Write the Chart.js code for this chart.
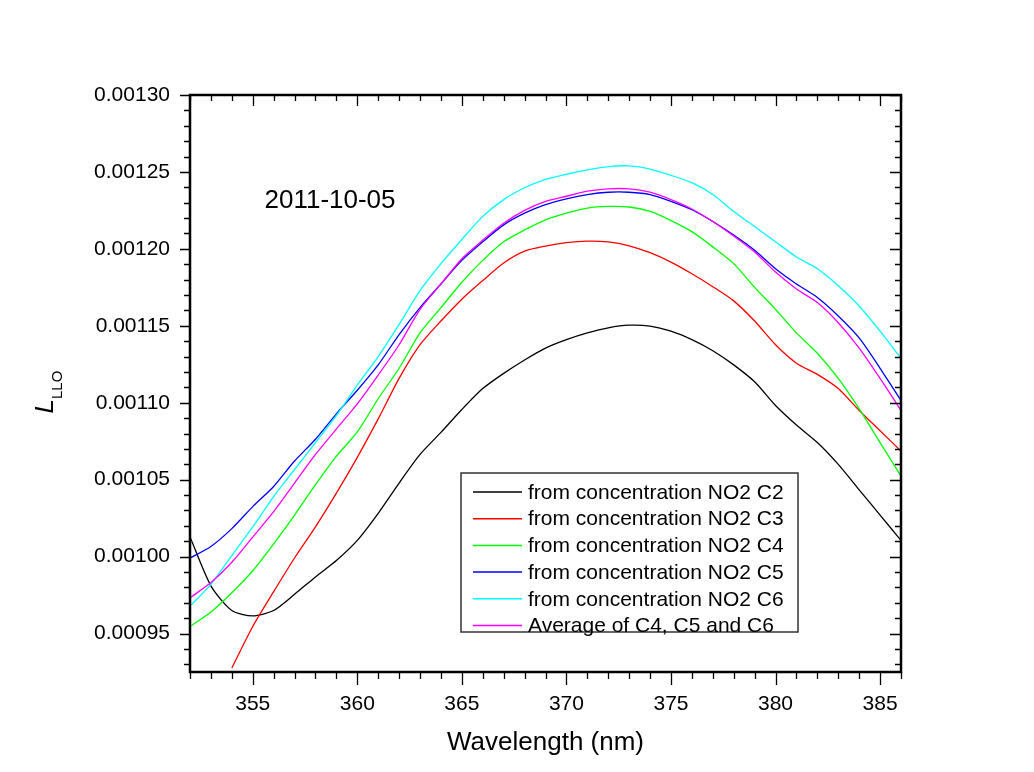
<!DOCTYPE html>
<html>
<head>
<meta charset="utf-8">
<title>LLO vs wavelength</title>
<script src="https://cdn.jsdelivr.net/npm/chart.js@4.4.1/dist/chart.umd.min.js"></script>
<style>
  html, body { margin: 0; padding: 0; background: #fff; }
  #wrap { width: 1034px; height: 772px; }
</style>
</head>
<body>
<div id="wrap"><canvas id="myChart" width="1034" height="772"></canvas></div>
<script>
// wavelength grid (nm)
var wavelength = [352, 353, 354, 355, 356, 357, 358, 359, 360, 361, 362, 363, 364, 365, 366, 367, 368,
                  369, 370, 371, 372, 373, 374, 375, 376, 377, 378, 379, 380, 381, 382, 383, 384, 385, 386];

// L_LLO from each NO2 concentration
var lloC2 = [0.0010128, 0.0009810, 0.0009650, 0.0009615, 0.0009650, 0.0009755, 0.0009868, 0.0009974,
             0.0010105, 0.0010281, 0.0010478, 0.0010664, 0.0010807, 0.0010956, 0.0011092, 0.0011191,
             0.0011278, 0.0011355, 0.0011410, 0.0011454, 0.0011487, 0.0011504, 0.0011498, 0.0011465,
             0.0011410, 0.0011338, 0.0011246, 0.0011136, 0.0010982, 0.0010855, 0.0010741, 0.0010599,
             0.0010434, 0.0010270, 0.0010105];
var lloC3 = [null, null, 0.0009276, 0.0009546, 0.0009772, 0.0009991, 0.0010193, 0.0010412,
             0.0010645, 0.0010895, 0.0011158, 0.0011377, 0.0011531, 0.0011673, 0.0011794, 0.0011908,
             0.0011985, 0.0012018, 0.0012040, 0.0012050, 0.0012045, 0.0012020, 0.0011975, 0.0011914,
             0.0011838, 0.0011754, 0.0011662, 0.0011531, 0.0011377, 0.0011257, 0.0011184, 0.0011092,
             0.0010950, 0.0010818, 0.0010686];
var lloC4 = [0.0009546, 0.0009640, 0.0009765, 0.0009908, 0.0010083, 0.0010270, 0.0010467, 0.0010653,
             0.0010810, 0.0011026, 0.0011224, 0.0011454, 0.0011618, 0.0011783, 0.0011925, 0.0012046,
             0.0012123, 0.0012189, 0.0012232, 0.0012265, 0.0012276, 0.0012272, 0.0012243, 0.0012184,
             0.0012112, 0.0012013, 0.0011904, 0.0011750, 0.0011607, 0.0011454, 0.0011322, 0.0011158,
             0.0010960, 0.0010741, 0.0010522];
var lloC5 = [0.0009991, 0.0010066, 0.0010182, 0.0010325, 0.0010456, 0.0010621, 0.0010763, 0.0010928,
             0.0011081, 0.0011246, 0.0011443, 0.0011618, 0.0011772, 0.0011925, 0.0012046, 0.0012156,
             0.0012232, 0.0012287, 0.0012325, 0.0012353, 0.0012368, 0.0012368, 0.0012353, 0.0012309,
             0.0012254, 0.0012178, 0.0012090, 0.0011991, 0.0011871, 0.0011772, 0.0011684, 0.0011564,
             0.0011421, 0.0011224, 0.0011015];
var lloC6 = [0.0009678, 0.0009820, 0.0010007, 0.0010193, 0.0010390, 0.0010566, 0.0010741, 0.0010917,
             0.0011114, 0.0011300, 0.0011509, 0.0011728, 0.0011904, 0.0012061, 0.0012211, 0.0012320,
             0.0012397, 0.0012452, 0.0012485, 0.0012513, 0.0012535, 0.0012539, 0.0012518, 0.0012478,
             0.0012430, 0.0012353, 0.0012243, 0.0012145, 0.0012046, 0.0011947, 0.0011871, 0.0011761,
             0.0011629, 0.0011465, 0.0011289];
var lloAvg = [0.0009732, 0.0009831, 0.0009963, 0.0010127, 0.0010292, 0.0010478, 0.0010664, 0.0010829,
              0.0010993, 0.0011180, 0.0011377, 0.0011607, 0.0011772, 0.0011936, 0.0012057, 0.0012167,
              0.0012250, 0.0012309, 0.0012342, 0.0012375, 0.0012390, 0.0012390, 0.0012368, 0.0012320,
              0.0012259, 0.0012178, 0.0012083, 0.0011980, 0.0011849, 0.0011739, 0.0011651, 0.0011520,
              0.0011355, 0.0011158, 0.0010950];

var seriesNames = ['from concentration NO2 C2', 'from concentration NO2 C3', 'from concentration NO2 C4',
                   'from concentration NO2 C5', 'from concentration NO2 C6', 'Average of C4, C5 and C6'];
var seriesColors = ['#000000', '#ff0000', '#00ff00', '#0000ff', '#00ffff', '#ff00ff'];

var xTickValues = [355, 360, 365, 370, 375, 380, 385];
var yTickValues = [0.00095, 0.00100, 0.00105, 0.00110, 0.00115, 0.00120, 0.00125, 0.00130];
var dateLabel = '2011-10-05';

var FONT = "'Liberation Sans', Arial, sans-serif";

function toPoints(vals) {
  return wavelength.map(function (w, i) { return { x: w, y: vals[i] }; });
}

var allSeries = [lloC2, lloC3, lloC4, lloC5, lloC6, lloAvg];
var datasets = allSeries.map(function (vals, i) {
  return {
    label: seriesNames[i],
    data: toPoints(vals),
    borderColor: seriesColors[i],
    backgroundColor: seriesColors[i],
    borderWidth: 1.3,
    pointRadius: 0,
    tension: 0.25,
    fill: false,
    spanGaps: false,
    order: allSeries.length - i
  };
});

// box, ticks (minor + major), titles, legend, date text
var framePlugin = {
  id: 'frame',
  afterDatasetsDraw: function (chart) {
    var ctx = chart.ctx, a = chart.chartArea;
    var xs = chart.scales.x, ys = chart.scales.y;
    ctx.save();
    ctx.strokeStyle = '#000';
    ctx.lineWidth = 1.3;

    // x ticks every 1 nm
    for (var w = Math.ceil(xs.min); w <= xs.max; w++) {
      var px = Math.round(xs.getPixelForValue(w)) + 0.5;
      var major = xTickValues.indexOf(w) >= 0;
      ctx.beginPath();
      ctx.moveTo(px, a.bottom); ctx.lineTo(px, a.bottom + (major ? 13 : 7));
      ctx.moveTo(px, a.top); ctx.lineTo(px, a.top + (major ? 11 : 6));
      ctx.stroke();
    }
    // y ticks every 0.00001
    var n0 = Math.ceil(ys.min / 0.00001 - 1e-6), n1 = Math.floor(ys.max / 0.00001 + 1e-6);
    for (var n = n0; n <= n1; n++) {
      var py = Math.round(ys.getPixelForValue(n * 0.00001)) + 0.5;
      var maj = n % 5 === 0;
      ctx.beginPath();
      ctx.moveTo(a.left, py); ctx.lineTo(a.left - (maj ? 10 : 6), py);
      ctx.moveTo(a.right, py); ctx.lineTo(a.right - (maj ? 11 : 6), py);
      ctx.stroke();
    }

    ctx.lineWidth = 2.5;
    ctx.strokeRect(a.left, a.top, a.right - a.left, a.bottom - a.top);

    // legend box
    var lx = a.left + 271, ly = a.top + 378, lw = 337, lh = 159;
    ctx.fillStyle = '#fff';
    ctx.fillRect(lx, ly, lw, lh);
    ctx.lineWidth = 1.5;
    ctx.strokeStyle = '#333';
    ctx.strokeRect(lx, ly, lw, lh);
    ctx.font = '21px ' + FONT;
    ctx.textBaseline = 'middle';
    ctx.textAlign = 'left';
    chart.data.datasets.forEach(function (ds, i) {
      var ry = ly + 19 + i * 26.7;
      ctx.strokeStyle = ds.borderColor;
      ctx.lineWidth = 1.5;
      ctx.beginPath();
      ctx.moveTo(lx + 12, ry); ctx.lineTo(lx + 61, ry);
      ctx.stroke();
      ctx.fillStyle = '#000';
      ctx.fillText(ds.label, lx + 67, ry + 1);
    });

    // date
    ctx.font = '26px ' + FONT;
    ctx.textAlign = 'center';
    ctx.fillText(dateLabel, a.left + 140, a.top + 106);

    // x title
    ctx.fillText('Wavelength (nm)', (a.left + a.right) / 2, 743);

    // y title: italic L with subscript LLO
    ctx.translate(53, (a.top + a.bottom) / 2 + 8);
    ctx.rotate(-Math.PI / 2);
    ctx.textAlign = 'left';
    ctx.textBaseline = 'alphabetic';
    ctx.font = 'italic 26px ' + FONT;
    var lw0 = ctx.measureText('L').width;
    ctx.fillText('L', -22, 0);
    ctx.font = '15px ' + FONT;
    ctx.fillText('LLO', -22 + lw0, 9);
    ctx.restore();
  }
};

var ctx = document.getElementById('myChart').getContext('2d');
var myChart = new Chart(ctx, {
  type: 'line',
  data: { datasets: datasets },
  options: {
    responsive: false,
    animation: false,
    devicePixelRatio: 1,
    layout: { padding: { top: 95, right: 133, left: 0, bottom: 0 } },
    plugins: { legend: { display: false }, tooltip: { enabled: false } },
    scales: {
      x: {
        type: 'linear',
        min: 352,
        max: 386,
        afterBuildTicks: function (s) { s.ticks = xTickValues.map(function (v) { return { value: v }; }); },
        afterFit: function (s) { s.height = 100; },
        grid: { display: false, drawTicks: false },
        border: { display: false },
        ticks: {
          autoSkip: false, maxRotation: 0, padding: 20, color: '#000',
          font: { family: FONT, size: 21 },
          callback: function (v) { return String(v); }
        }
      },
      y: {
        type: 'linear',
        min: 0.000925,
        max: 0.0013,
        afterBuildTicks: function (s) { s.ticks = yTickValues.map(function (v) { return { value: v }; }); },
        afterFit: function (s) { s.width = 190; },
        grid: { display: false, drawTicks: false },
        border: { display: false },
        ticks: {
          autoSkip: false, padding: 20, color: '#000',
          font: { family: FONT, size: 21 },
          callback: function (v) { return v.toFixed(5); }
        }
      }
    }
  },
  plugins: [framePlugin]
});
</script>
</body>
</html>
